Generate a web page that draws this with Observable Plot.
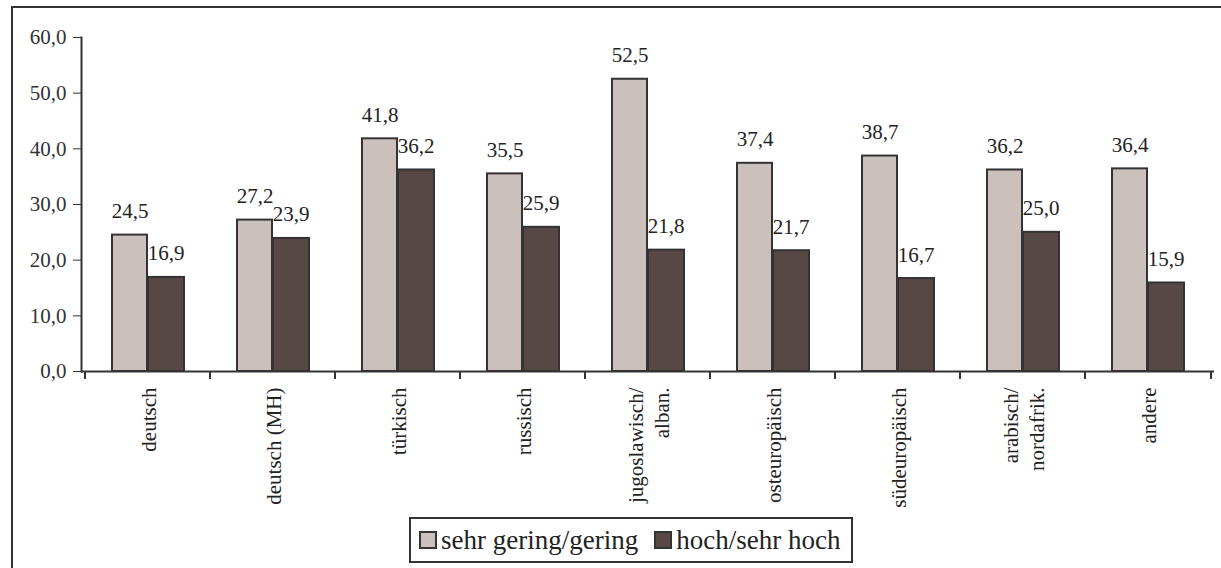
<!DOCTYPE html>
<html>
<head>
<meta charset="utf-8">
<script src="https://cdn.jsdelivr.net/npm/d3@7"></script>
<script src="https://cdn.jsdelivr.net/npm/@observablehq/plot@0.6"></script>
<style>
  html, body { margin: 0; padding: 0; background: #fff; overflow: hidden; }
  body { width: 1221px; height: 568px; position: relative; font-family: "Liberation Serif", "Times New Roman", Times, serif; }
  #frame { position: absolute; left: 11px; top: 6px; width: 1240px; height: 600px; border: 2px solid #333; box-sizing: border-box; }
  #chart { position: absolute; left: 0; top: 0; }
  #legend { position: absolute; left: 409px; top: 517px; width: 444px; height: 46px; border: 2px solid #333; box-sizing: border-box;
            display: flex; align-items: center; padding-left: 8px; font-size: 27px; color: #222; white-space: nowrap; }
  .sw { display: inline-block; width: 18px; height: 18px; border: 2px solid #333; box-sizing: border-box; margin-right: 4px; }
  .item { display: flex; align-items: center; margin-right: 16px; }
</style>
</head>
<body>
<div id="frame"></div>
<div id="chart"></div>
<div id="legend"></div>
<script>
const categories = ["deutsch", "deutsch (MH)", "türkisch", "russisch", "jugoslawisch/\nalban.", "osteuropäisch", "südeuropäisch", "arabisch/\nnordafrik.", "andere"];
const seriesNames = ["sehr gering/gering", "hoch/sehr hoch"];
const lowValues  = [24.5, 27.2, 41.8, 35.5, 52.5, 37.4, 38.7, 36.2, 36.4];
const highValues = [16.9, 23.9, 36.2, 25.9, 21.8, 21.7, 16.7, 25.0, 15.9];
const yTicks = [0, 10, 20, 30, 40, 50, 60];
const colors = ["#CBC0BC", "#574845"];

const serif = "'Liberation Serif', 'Times New Roman', Times, serif";
const lowRows = categories.map((c, i) => ({cat: c, v: lowValues[i]}));
const highRows = categories.map((c, i) => ({cat: c, v: highValues[i]}));
const fmt = d => d.toFixed(1).replace(".", ",");

const chart = Plot.plot({
  width: 1221,
  height: 517,
  marginLeft: 81,
  marginRight: 7,
  marginTop: 37,
  marginBottom: 146,
  style: {fontFamily: serif, fontSize: "21px", color: "#333", background: "transparent"},
  x: {domain: categories, padding: 0, axis: null},
  y: {domain: [0, 60], ticks: yTicks, tickFormat: fmt, tickSize: 8, tickPadding: 7, label: null},
  marks: [
    Plot.barY(lowRows, {x: "cat", y: "v", insetLeft: 27, insetRight: 63, fill: colors[0], stroke: "#333", strokeWidth: 2}),
    Plot.barY(highRows, {x: "cat", y: "v", insetLeft: 63, insetRight: 26, fill: colors[1], stroke: "#333", strokeWidth: 2}),
    Plot.text(lowRows, {x: "cat", y: "v", text: d => fmt(d.v), dx: -18, dy: -17, lineAnchor: "bottom", fill: "#222", fontFamily: serif}),
    Plot.text(highRows, {x: "cat", y: "v", text: d => fmt(d.v), dx: 18, dy: -17, lineAnchor: "bottom", fill: "#222", fontFamily: serif}),
    Plot.frame({anchor: "left", stroke: "#333", strokeWidth: 2}),
    Plot.ruleY([0], {stroke: "#333", strokeWidth: 2}),
    Plot.ruleX(categories, {x: d => d, dx: -63, y1: 0, y2: 0, insetBottom: -8, stroke: "#333", strokeWidth: 2}),
    Plot.ruleX(categories.slice(-1), {x: d => d, dx: 63, y1: 0, y2: 0, insetBottom: -8, stroke: "#333", strokeWidth: 2}),
    Plot.text(categories, {x: d => d, frameAnchor: "bottom", text: d => d, rotate: -90, textAnchor: "end", lineAnchor: "middle", dy: 16, fill: "#222", lineHeight: 1.2, fontFamily: serif})
  ]
});
document.getElementById("chart").appendChild(chart);

const legend = document.getElementById("legend");
seriesNames.forEach((name, i) => {
  const item = document.createElement("span");
  item.className = "item";
  const sw = document.createElement("span");
  sw.className = "sw";
  sw.style.background = colors[i];
  item.appendChild(sw);
  item.appendChild(document.createTextNode(name));
  legend.appendChild(item);
});
</script>
</body>
</html>
